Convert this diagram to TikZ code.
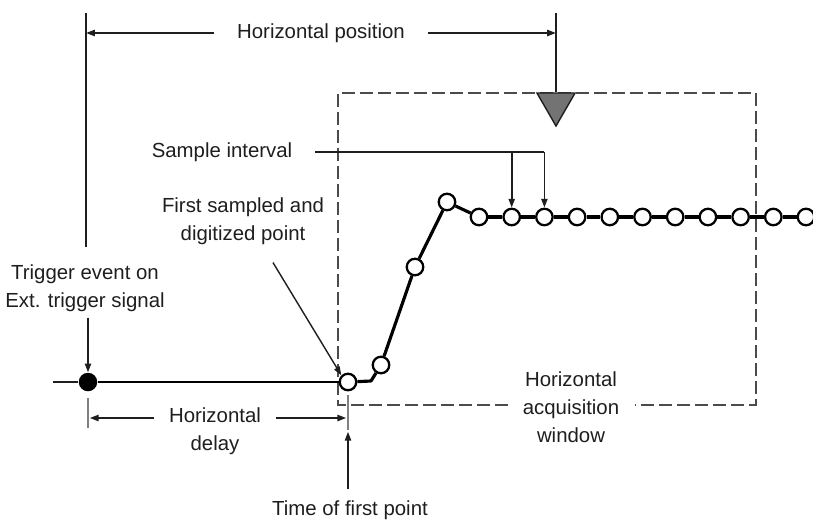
\documentclass[tikz,border=0pt]{standalone}
\usepackage{fontspec}
\setmainfont{Liberation Sans}
\usetikzlibrary{arrows.meta,positioning,calc,shapes.geometric}
\definecolor{ln}{RGB}{30,30,30}
\definecolor{dl}{RGB}{75,75,75}
\definecolor{mk}{RGB}{115,115,115}
\tikzset{smp/.style={circle,draw=black,line width=1.3pt,fill=white,inner sep=0pt,minimum size=.33cm},
 trg/.style={circle,fill=black,inner sep=0pt,minimum size=.37cm},
 mrk/.style={regular polygon,regular polygon sides=3,shape border rotate=180,draw=ln,fill=mk,line width=.8pt,inner sep=0pt,minimum size=.88cm},
 wire/.style={line width=1pt,draw=ln},arr/.style={wire,-{Triangle[length=5pt,width=3.5pt]}},
 wave/.style={line width=1.8pt,line join=round},base/.style={line width=1.4pt},
 win/.style={line width=1.3pt,draw=dl,dash pattern=on .25cm off .11cm},
 tick/.style={line width=.9pt,draw=gray},
 txt/.style={align=center,text=ln,font=\fontsize{11.6}{15.8}\selectfont}}

\begin{document}
\begin{tikzpicture}[x=.02cm,y=-.02cm]
\useasboundingbox (0,0) rectangle (813,527);
% window and position marker
\coordinate (wa) at (338,405);\coordinate (wb) at (338,93);
\coordinate (wc) at (756,93);\coordinate (wd) at (756,405);
\node[txt,inner xsep=.3cm] (acq) at (571,407) {Horizontal\\acquisition\\window};
\draw[win] (acq.west |- wa)--(wa)--(wb)--(wc)--(wd)--(acq.east |- wd);
\coordinate (tl) at (86,13);\coordinate (tb) at (86,247);\coordinate (mt) at (556,13);
\node[mrk] (tri) at (556,104) {};
\draw[wire,line width=1.2pt] (tl)--(tb);\draw[wire] (mt)--(tri.north);
\node[txt,inner xsep=.45cm] (hpos) at (321,33) {Horizontal position};
\draw[arr] (hpos.west)--(tl |- hpos);\draw[arr] (hpos.east)--(mt |- hpos);
% samples
\foreach \n/\x/\y in {0/348/382,1/381/365,2/415/267,3/447/202,4/479/217}
 \node[smp] (s\n) at (\x,\y) {};
\foreach \n in {5,...,14} \node[smp] (s\n) at ({479+32.7*(\n-4)},217) {};
\draw[wave] (s0)--(371,381)--(s1)--(s2)--(s3)--(s4);
\foreach \a [count=\b from 5] in {4,...,13} \draw[wave] (s\a)--(s\b);
\node[trg] (trg) at (88,382) {};\coordinate (bl) at (53,382);
\draw[wire] (bl)--(trg);\draw[base] (trg)--(s0);
% labels
\node[txt,inner xsep=.45cm] (sil) at (222,152) {Sample interval};
\draw[wire] (sil.east)--(s6.north |- sil);
\draw[arr] (s5.north |- sil)--(s5.north);\draw[arr] (s6.north |- sil)--(s6.north);
\node[txt] (fsl) at (243,221) {First sampled and\\digitized point};
\draw[arr,line width=.8pt] ($(fsl.south)+(30,12)$)--(s0.north west);
\node[txt] (trl) at (85,288) {Trigger event on\\Ext. trigger signal};
\draw[arr] (trg |- trl.south)--(trg.north);
% delay
\coordinate (d1a) at (88,398);\coordinate (d1b) at (88,428);
\coordinate (d2a) at (348,395);\coordinate (d2b) at (348,430);
\draw[tick] (d1a)--(d1b);\draw[tick] (d2a)--(d2b);
\node[txt,inner xsep=.3cm] (hdl) at (215,431) {Horizontal\\delay};
\path ($(hdl.west)+(0,-13)$) coordinate (hdw) ($(hdl.east)+(0,-13)$) coordinate (hde);
\draw[arr] (hdw)--([xshift=1pt]d1a |- hdw);\draw[arr] (hde)--([xshift=-1pt]d2a |- hde);
\node[txt] (tfp) at (350,510) {Time of first point};
\draw[arr] ([yshift=3pt]d2b |- tfp.north)--([yshift=-1pt]d2b);
\end{tikzpicture}
\end{document}
